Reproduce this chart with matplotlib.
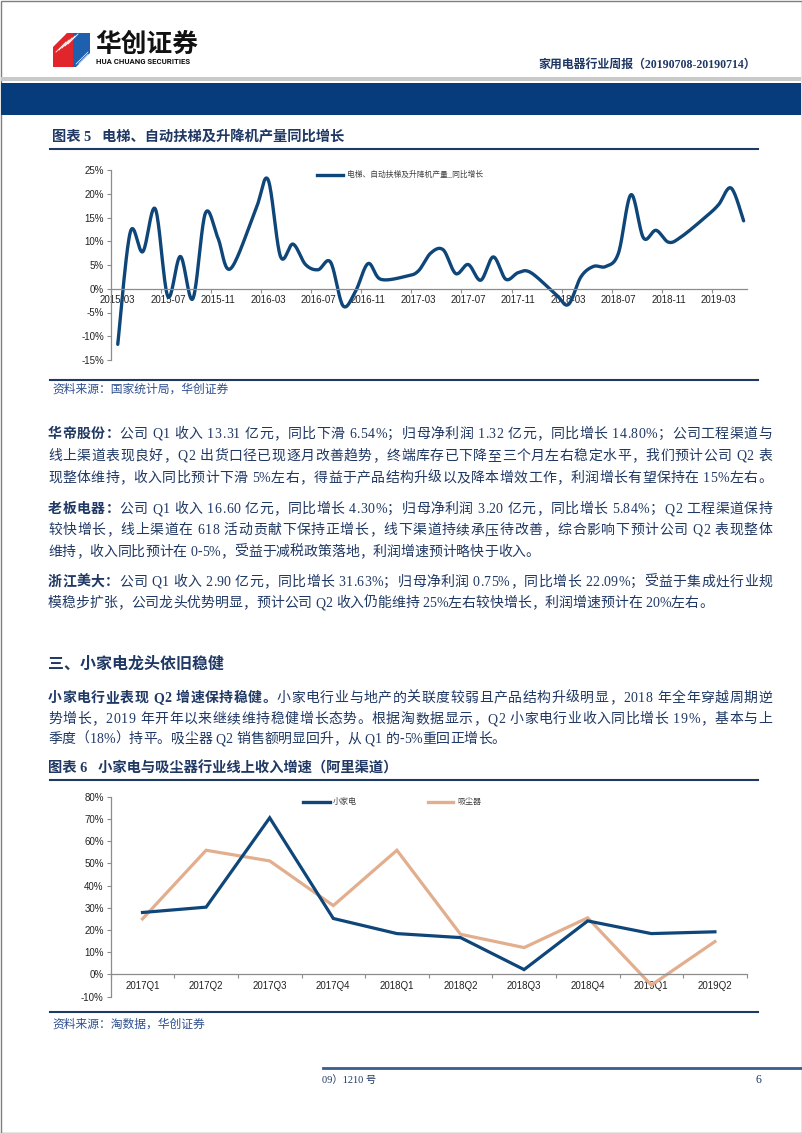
import numpy as np
import matplotlib
matplotlib.use('Agg')
import matplotlib.pyplot as plt
from matplotlib.patches import Polygon, Rectangle
from matplotlib.lines import Line2D

# ---------------- data ----------------
elev_months = ['2015-03', '2015-04', '2015-05', '2015-06', '2015-07', '2015-08', '2015-09',
               '2015-10', '2015-11', '2015-12', '2016-02', '2016-03', '2016-04', '2016-05',
               '2016-06', '2016-07', '2016-08', '2016-09', '2016-10', '2016-11', '2016-12',
               '2017-02', '2017-03', '2017-04', '2017-05', '2017-06', '2017-07', '2017-08',
               '2017-09', '2017-10', '2017-11', '2017-12', '2018-02', '2018-03', '2018-04',
               '2018-05', '2018-06', '2018-07', '2018-08', '2018-09', '2018-10', '2018-11',
               '2018-12', '2019-02', '2019-03', '2019-04', '2019-05']
elev_growth = [-11.7, 11.9, 7.8, 16.8, -1.6, 6.8, -2.1,
               15.9, 10.7, 4.2, 16.5, 23.0, 6.8, 9.4,
               5.1, 4.0, 5.6, -3.6, -0.5, 5.3, 2.0,
               2.6, 3.7, 7.5, 8.2, 3.2, 5.1, 1.8,
               6.7, 2.0, 3.4, 3.4, -1.2, -3.3, 2.5,
               4.7, 4.7, 7.5, 19.8, 10.7, 12.3, 9.8,
               10.9, 15.2, 17.7, 21.2, 14.3]
elev_tick_labels = ['2015-03', '2015-07', '2015-11', '2016-03', '2016-07', '2016-11', '2017-03',
                    '2017-07', '2017-11', '2018-03', '2018-07', '2018-11', '2019-03']
elev_yticks = [-15, -10, -5, 0, 5, 10, 15, 20, 25]
elev_legend = '电梯、自动扶梯及升降机产量_同比增长'

quarters = ['2017Q1', '2017Q2', '2017Q3', '2017Q4', '2018Q1', '2018Q2', '2018Q3', '2018Q4',
            '2019Q1', '2019Q2']
small_appliance = [27.9, 30.3, 70.5, 25.2, 18.4, 16.6, 2.2, 24.1, 18.4, 19.2]
vacuum = [25.0, 55.9, 51.1, 31.0, 55.9, 18.1, 12.1, 25.5, -4.8, 14.8]
q_yticks = [-10, 0, 10, 20, 30, 40, 50, 60, 70, 80]
q_series_names = ['小家电', '吸尘器']

# ---------------- style ----------------
W, H = 802, 1133
CJK = 'Noto Sans CJK SC'
SERIF = ['Liberation Serif', CJK]
SANS = ['Liberation Sans', CJK]
NAVY = '#1F3864'
BLUE = '#0F4679'
TAN = '#E2AE8E'
AXC = '#8C8C8C'
TICKSZ = 7.0
plt.rcParams['font.family'] = SANS

fig = plt.figure(figsize=(W / 100, H / 100), dpi=100)
renderer = fig.canvas.get_renderer()
ax0 = fig.add_axes([0, 0, 1, 1], zorder=0)
ax0.set_xlim(0, W)
ax0.set_ylim(H, 0)
ax0.axis('off')


def rect(l, t, r, b):
    return [l / W, 1 - b / H, (r - l) / W, (b - t) / H]


_wc = {}


def cw(ch, size, weight):
    key = (ch, size, weight)
    if key not in _wc:
        if ch == ' ':
            _wc[key] = size * 100 / 72 * 0.25
        else:
            t = ax0.text(0, 0, ch, fontsize=size, fontweight=weight, family=SERIF)
            _wc[key] = t.get_window_extent(renderer).width
            t.remove()
    return _wc[key]


def draw_line(x0, yc, segs, size=10, right=None, color=NAVY):
    toks = []
    for text, weight in segs:
        for ch in text:
            toks.append((ch, weight))
    ws = [cw(ch, size, w) for ch, w in toks]
    extra = 0.0
    if right is not None and len(toks) > 1:
        extra = (right - x0 - sum(ws)) / (len(toks) - 1)
    base = yc + size * 100 / 72 * 0.36
    x = x0
    for (ch, w), wd in zip(toks, ws):
        if ch != ' ':
            ax0.text(x, base, ch, fontsize=size, fontweight=w, family=SERIF, color=color,
                     ha='left', va='baseline')
        x += wd + extra


# ---------------- page furniture ----------------
ax0.add_patch(Rectangle((0.5, 0.5), W - 1, H - 1, fill=False, edgecolor='#7F7F7F', lw=1))
ax0.add_patch(Rectangle((1, 77), W - 2, 4, color='#C9C9C9', lw=0))
ax0.add_patch(Rectangle((1, 83), W - 2, 32, color='#063C7C', lw=0))

# logo
ax0.add_patch(Polygon([(53, 47), (67, 33), (73, 33), (73, 67), (53, 67)], color='#E0262B', lw=0))
ax0.add_patch(Polygon([(73, 33), (90, 33), (90, 53), (76, 67), (73, 67)], color='#1E5FAE', lw=0))
for k in range(5):
    ax0.plot([56 + 3 * k, 66 + 3 * k], [52 - 2 * k, 42 - 2 * k], color='white', lw=0.6)
    ax0.plot([76 + 3 * k, 88], [64 - 0.5 * k, 52 + 2.5 * k], color='white', lw=0.5)
ax0.text(95, 44, '华创证券', fontsize=18.5, fontweight='bold', family=[CJK], color='#111111',
         ha='left', va='center')
ax0.text(96, 61.5, 'HUA CHUANG SECURITIES', fontsize=5.6, fontweight='bold', family=['Roboto'],
         color='#111111', ha='left', va='center')
ax0.text(756, 65, '家用电器行业周报（20190708-20190714）', fontsize=8.6, fontweight='bold',
         family=SERIF, color=NAVY, ha='right', va='center')

# footer
ax0.plot([323, 801], [1068, 1068], color='#3B5C8E', lw=2)
ax0.text(322, 1080, '09）1210 号', fontsize=7.5, family=SERIF, color=NAVY, ha='left', va='center')
ax0.text(756, 1080, '6', fontsize=8.5, family=SERIF, color=NAVY, ha='left', va='center')

# ---------------- chart 1 ----------------
ax0.text(52, 137, '图表 5   电梯、自动扶梯及升降机产量同比增长', fontsize=10.3, fontweight='bold',
         family=SERIF, color=NAVY, ha='left', va='center')
ax0.plot([50, 758], [149, 149], color=NAVY, lw=1.5)
ax0.plot([50, 758], [380, 380], color=NAVY, lw=1.5)
ax0.text(52, 389, '资料来源：国家统计局，华创证券', fontsize=8.5, family=[CJK], color='#2E4F8F',
         ha='left', va='center', style='italic')


def midx(s):
    y, m = map(int, s.split('-'))
    return (y - 2015) * 12 + m - 3


def smooth(x, y, n=20):
    P = np.column_stack([np.asarray(x, float), np.asarray(y, float)])
    Pe = np.vstack([P[0], P, P[-1]])
    t = np.linspace(0, 1, n, endpoint=False)[:, None]
    out = []
    for i in range(len(P) - 1):
        p0, p1, p2, p3 = Pe[i], Pe[i + 1], Pe[i + 2], Pe[i + 3]
        c1 = p1 + (p2 - p0) / 6
        c2 = p2 - (p3 - p1) / 6
        out.append((1 - t) ** 3 * p1 + 3 * (1 - t) ** 2 * t * c1 + 3 * (1 - t) * t ** 2 * c2 + t ** 3 * p2)
    out.append(P[-1:])
    S = np.vstack(out)
    return S[:, 0], S[:, 1]


ax1 = fig.add_axes(rect(111, 170, 747, 360), zorder=2)
ax1.patch.set_visible(False)
ex = [midx(m) for m in elev_months]
sx, sy = smooth(ex, elev_growth)
ax1.plot(sx, sy, color=BLUE, lw=2.4, solid_capstyle='round', solid_joinstyle='round')
ax1.set_xlim(-0.54, 50.27)
ax1.set_ylim(-15, 25)
for s in ['top', 'right']:
    ax1.spines[s].set_visible(False)
ax1.spines['bottom'].set_position(('data', 0))
for s in ['bottom', 'left']:
    ax1.spines[s].set_color(AXC)
    ax1.spines[s].set_linewidth(0.9)
ax1.set_yticks(elev_yticks)
ax1.set_yticklabels([f'{v}%' for v in elev_yticks])
lab_pos = [midx(m) for m in elev_tick_labels]
ax1.set_xticks([p - 0.54 for p in lab_pos])
ax1.set_xticklabels([])
ax1.set_xticks(lab_pos, minor=True)
ax1.set_xticklabels(elev_tick_labels, minor=True)
ax1.tick_params(axis='x', which='major', direction='out', length=3, color=AXC, width=0.8)
ax1.tick_params(axis='x', which='minor', length=0, pad=4.5, labelsize=TICKSZ, labelcolor='#222222')
ax1.tick_params(axis='y', direction='out', length=3, color=AXC, width=0.8, pad=2,
                labelsize=TICKSZ, labelcolor='#222222')

ax0.plot([317, 343], [175, 175], color=BLUE, lw=2.4)
ax0.text(347, 175, elev_legend, fontsize=5.6, family=[CJK], color='#404040', ha='left', va='center')

# ---------------- body text ----------------
R = 772
L = 48
draw_line(L, 433, [('华帝股份：', 'bold'), ('公司 Q1 收入 13.31 亿元，同比下滑 6.54%；归母净利润 1.32 亿元，同比增长 14.80%；公司工程渠道与', 'normal')], right=R)
draw_line(L, 455, [('线上渠道表现良好，Q2 出货口径已现逐月改善趋势，终端库存已下降至三个月左右稳定水平，我们预计公司 Q2 表', 'normal')], right=R)
draw_line(L, 477, [('现整体维持，收入同比预计下滑 5%左右，得益于产品结构升级以及降本增效工作，利润增长有望保持在 15%左右。', 'normal')], right=R)

draw_line(L, 508, [('老板电器：', 'bold'), ('公司 Q1 收入 16.60 亿元，同比增长 4.30%；归母净利润 3.20 亿元，同比增长 5.84%；Q2 工程渠道保持', 'normal')], right=R)
draw_line(L, 529, [('较快增长，线上渠道在 618 活动贡献下保持正增长，线下渠道持续承压待改善，综合影响下预计公司 Q2 表现整体', 'normal')], right=R)
draw_line(L, 551, [('维持，收入同比预计在 0-5%，受益于减税政策落地，利润增速预计略快于收入。', 'normal')])

draw_line(L, 581, [('浙江美大：', 'bold'), ('公司 Q1 收入 2.90 亿元，同比增长 31.63%；归母净利润 0.75%，同比增长 22.09%；受益于集成灶行业规', 'normal')], right=R)
draw_line(L, 602, [('模稳步扩张，公司龙头优势明显，预计公司 Q2 收入仍能维持 25%左右较快增长，利润增速预计在 20%左右。', 'normal')])

ax0.text(L, 665, '三、小家电龙头依旧稳健', fontsize=11.5, fontweight='bold', family=SERIF,
         color=NAVY, ha='left', va='center')

draw_line(L, 697, [('小家电行业表现 Q2 增速保持稳健。', 'bold'), ('小家电行业与地产的关联度较弱且产品结构升级明显，2018 年全年穿越周期逆', 'normal')], right=R)
draw_line(L, 718, [('势增长，2019 年开年以来继续维持稳健增长态势。根据淘数据显示，Q2 小家电行业收入同比增长 19%，基本与上', 'normal')], right=R)
draw_line(L, 738, [('季度（18%）持平。吸尘器 Q2 销售额明显回升，从 Q1 的-5%重回正增长。', 'normal')])

# ---------------- chart 2 ----------------
ax0.text(L, 768, '图表 6   小家电与吸尘器行业线上收入增速（阿里渠道）', fontsize=10.3, fontweight='bold',
         family=SERIF, color=NAVY, ha='left', va='center')
ax0.plot([50, 758], [779.5, 779.5], color=NAVY, lw=1.5)
ax0.plot([50, 758], [1011.5, 1011.5], color=NAVY, lw=1.5)
ax0.text(52, 1024, '资料来源：淘数据，华创证券', fontsize=8.5, family=[CJK], color='#2E4F8F',
         ha='left', va='center', style='italic')

ax2 = fig.add_axes(rect(110.7, 796.7, 746.7, 996.7), zorder=2)
ax2.patch.set_visible(False)
qx = np.arange(len(quarters))
ax2.plot(qx, vacuum, color=TAN, lw=2.3, solid_joinstyle='miter')
ax2.plot(qx, small_appliance, color=BLUE, lw=2.3, solid_joinstyle='miter')
ax2.set_xlim(-0.5, len(quarters) - 0.5)
ax2.set_ylim(-10, 80)
for s in ['top', 'right']:
    ax2.spines[s].set_visible(False)
ax2.spines['bottom'].set_position(('data', 0))
for s in ['bottom', 'left']:
    ax2.spines[s].set_color(AXC)
    ax2.spines[s].set_linewidth(0.9)
ax2.set_yticks(q_yticks)
ax2.set_yticklabels([f'{v}%' for v in q_yticks])
ax2.set_xticks(np.arange(len(quarters) + 1) - 0.5)
ax2.set_xticklabels([])
ax2.set_xticks(qx, minor=True)
ax2.set_xticklabels(quarters, minor=True)
ax2.tick_params(axis='x', which='major', direction='out', length=3, color=AXC, width=0.8)
ax2.tick_params(axis='x', which='minor', length=0, pad=5, labelsize=TICKSZ, labelcolor='#222222')
ax2.tick_params(axis='y', direction='out', length=3, color=AXC, width=0.8, pad=2,
                labelsize=TICKSZ, labelcolor='#222222')

ax0.plot([303, 330], [801.7, 801.7], color=BLUE, lw=2.4)
ax0.text(333, 801.7, q_series_names[0], fontsize=5.8, family=[CJK], color='#404040',
         ha='left', va='center')
ax0.plot([428, 453], [801.7, 801.7], color=TAN, lw=2.4)
ax0.text(457, 801.7, q_series_names[1], fontsize=5.8, family=[CJK], color='#404040',
         ha='left', va='center')

fig.savefig('out.png', dpi=100)
